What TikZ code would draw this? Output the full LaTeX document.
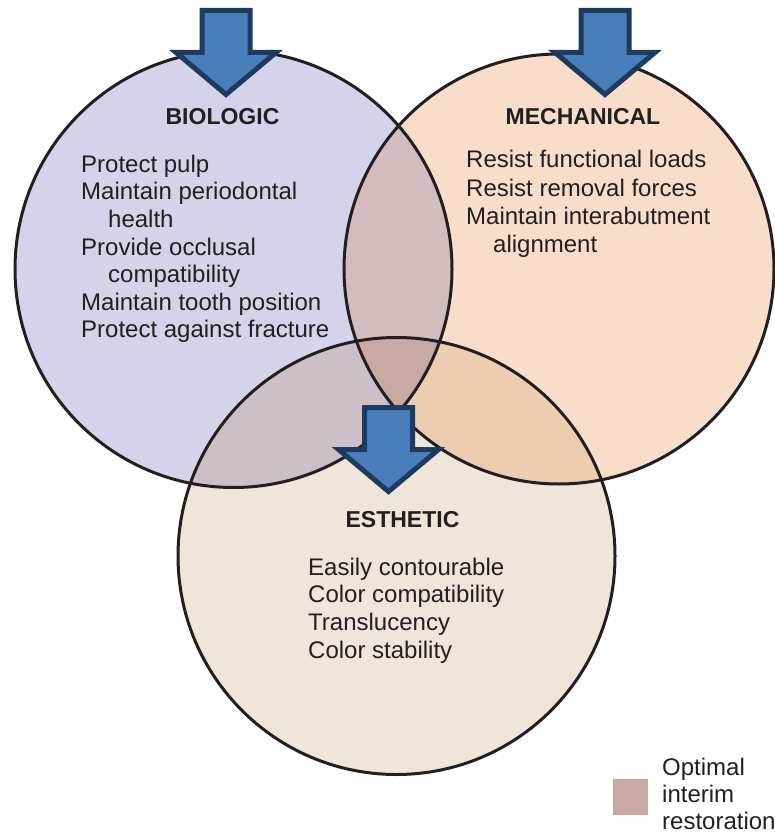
\documentclass[tikz,border=0pt]{standalone}
\usepackage{fontspec}
\setmainfont{Liberation Sans}
\definecolor{bioc}{HTML}{D5D3E9}
\definecolor{mechc}{HTML}{F8DECA}
\definecolor{esthc}{HTML}{F0E5D9}
\definecolor{bmc}{HTML}{D3BCBD}
\definecolor{bec}{HTML}{CBC0C8}
\definecolor{mec}{HTML}{ECCDB2}
\definecolor{triplec}{HTML}{C8A9A4}
\definecolor{ringcol}{HTML}{231F20}
\definecolor{textcol}{HTML}{231F20}
\definecolor{arrowfill}{HTML}{4A7EBB}
\definecolor{arrowline}{HTML}{1F3A5F}
\tikzset{
  txt/.style={anchor=base west, inner sep=0pt, text=textcol, font=\fontsize{24}{28}\selectfont},
  ttl/.style={anchor=base, inner sep=0pt, text=textcol, font=\fontsize{23}{28}\selectfont\bfseries},
  ring/.style={draw=ringcol, line width=3pt},
  blockarrow/.style={fill=arrowfill, draw=arrowline, line width=5pt, line join=miter, miter limit=10},
  pics/downarrow/.style={code={
    \path[blockarrow] (-24,0) -- (24,0) -- (24,42) -- (50,42) -- (0,84) -- (-50,42) -- (-24,42) -- cycle;
  }}
}
\begin{document}
\begin{tikzpicture}[x=1pt,y=-1pt]
\useasboundingbox (0,0) rectangle (774,834);
\coordinate (B) at (233.5,269);
\coordinate (M) at (559,269);
\coordinate (E) at (396.5,556);
% base fills
\fill[bioc] (B) circle[radius=218.5pt];
\fill[mechc] (M) circle[radius=215pt];
\fill[esthc] (E) circle[radius=218.5pt];
% pairwise overlaps
\begin{scope}
  \clip (B) circle[radius=218.5pt];
  \fill[bmc] (M) circle[radius=215pt];
  \fill[bec] (E) circle[radius=218.5pt];
\end{scope}
\begin{scope}
  \clip (M) circle[radius=215pt];
  \fill[mec] (E) circle[radius=218.5pt];
\end{scope}
% triple overlap
\begin{scope}
  \clip (B) circle[radius=218.5pt];
  \clip (M) circle[radius=215pt];
  \fill[triplec] (E) circle[radius=218.5pt];
\end{scope}
% outlines
\draw[ring] (B) circle[radius=218.5pt];
\draw[ring] (M) circle[radius=215pt];
\draw[ring] (E) circle[radius=218.5pt];
% arrows
\pic (arrowB) at (226,10.5) {downarrow};
\pic (arrowM) at (605,10.5) {downarrow};
\pic (arrowE) at (388.5,407.5) {downarrow};
% biologic
\node[ttl] (tB) at (222.5,125) {BIOLOGIC};
\node[txt] (b1) at (81,173) {Protect pulp};
\node[txt] (b2) at (81,200) {Maintain periodontal};
\node[txt] (b3) at (108,227.5) {health};
\node[txt] (b4) at (81,255) {Provide occlusal};
\node[txt] (b5) at (108,282) {compatibility};
\node[txt] (b6) at (81,310) {Maintain tooth position};
\node[txt] (b7) at (81,337.5) {Protect against fracture};
% mechanical
\node[ttl] (tM) at (583,125) {MECHANICAL};
\node[txt] (m1) at (466,168) {Resist functional loads};
\node[txt] (m2) at (466,196.5) {Resist removal forces};
\node[txt] (m3) at (466,224.5) {Maintain interabutment};
\node[txt] (m4) at (493,252) {alignment};
% esthetic
\node[ttl] (tE) at (402.5,527) {ESTHETIC};
\node[txt] (e1) at (308,575) {Easily contourable};
\node[txt] (e2) at (308,602.5) {Color compatibility};
\node[txt] (e3) at (308,630) {Translucency};
\node[txt] (e4) at (308,658) {Color stability};
% legend
\fill[triplec] (613,779) rectangle (648,815);
\node[txt] (l1) at (662,775) {Optimal};
\node[txt] (l2) at (662,802.5) {interim};
\node[txt] (l3) at (662,829.5) {restoration};
\end{tikzpicture}
\end{document}
